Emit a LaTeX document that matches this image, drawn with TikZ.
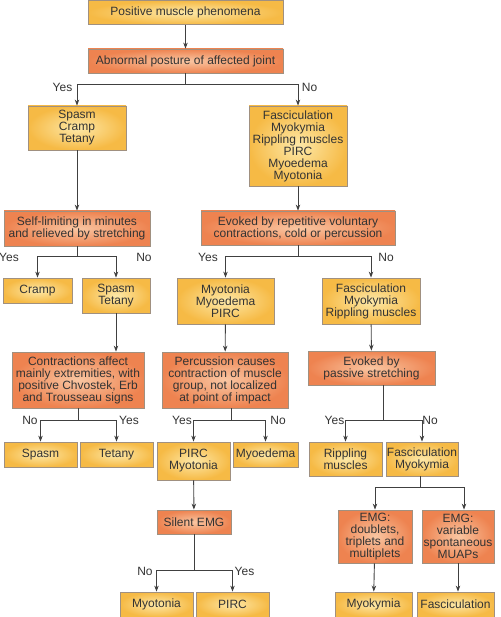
\documentclass[tikz,border=0pt]{standalone}
\usepackage{fontspec}
\setmainfont{Liberation Sans}
\usetikzlibrary{arrows.meta,calc}
\definecolor{yout}{HTML}{F6BA45}
\definecolor{yin}{HTML}{FDE8A8}
\definecolor{oout}{HTML}{EE8350}
\definecolor{oin}{HTML}{F9C6A2}
\definecolor{bord}{HTML}{A09080}
\definecolor{ln}{HTML}{404040}
\definecolor{txt}{HTML}{333333}
\begin{document}
\begin{tikzpicture}[x=1pt,y=-1pt,
  every node/.style={font=\fontsize{12}{12}\selectfont, text=txt},
  boxbase/.style={draw=bord, line width=0.8pt, inner sep=0pt, align=center},
  ybox/.style={boxbase, inner color=yin, outer color=yout},
  obox/.style={boxbase, inner color=oin, outer color=oout},
  arr/.style={draw=ln, line width=0.9pt, -{Stealth[length=6pt,width=4.5pt]}},
  ln/.style={draw=ln, line width=0.9pt},
  lab/.style={inner sep=0pt}]
\useasboundingbox (0,0) rectangle (500,617);
% boxes
\node[ybox, minimum width=195, minimum height=24] (b1) at (185.5,12.5) {Positive muscle phenomena};
\node[obox, minimum width=195, minimum height=24] (b2) at (185.5,61) {Abnormal posture of affected joint};
\node[ybox, minimum width=98, minimum height=44] (b3) at (77,128) {Spasm\\Cramp\\Tetany};
\node[ybox, minimum width=98, minimum height=80] (b4) at (298,146) {Fasciculation\\Myokymia\\Rippling muscles\\PIRC\\Myoedema\\Myotonia};
\node[obox, minimum width=146, minimum height=35] (b5) at (77,228.5) {Self-limiting in minutes\\and relieved by stretching};
\node[obox, minimum width=194, minimum height=34] (b6) at (298,228) {Evoked by repetitive voluntary\\contractions, cold or percussion};
\node[ybox, minimum width=69, minimum height=25] (b7) at (37.5,290.5) {Cramp};
\node[ybox, minimum width=68, minimum height=35] (b8) at (116,295.5) {Spasm\\Tetany};
\node[ybox, minimum width=97, minimum height=46] (b9) at (225.5,301) {Myotonia\\Myoedema\\PIRC};
\node[ybox, minimum width=98, minimum height=46] (b10) at (371,301) {Fasciculation\\Myokymia\\Rippling muscles};
\node[obox, minimum width=132, minimum height=56] (b11) at (78,380) {Contractions affect\\mainly extremities, with\\positive Chvostek, Erb\\and Trousseau signs};
\node[obox, minimum width=126, minimum height=56] (b12) at (225,380) {Percussion causes\\contraction of muscle\\group, not localized\\at point of impact};
\node[obox, minimum width=127, minimum height=34] (b13) at (371.5,368) {Evoked by\\passive stretching};
\node[ybox, minimum width=73, minimum height=25] (b14) at (40.5,454.5) {Spasm};
\node[ybox, minimum width=73, minimum height=25] (b15) at (116.5,454.5) {Tetany};
\node[ybox, minimum width=73, minimum height=38] (b16) at (193.5,461) {PIRC\\Myotonia};
\node[ybox, minimum width=65, minimum height=25] (b17) at (265.5,454.5) {Myoedema};
\node[ybox, minimum width=73, minimum height=34] (b18) at (345.5,459) {Rippling\\muscles};
\node[ybox, minimum width=72, minimum height=34] (b19) at (422,459) {Fasciculation\\Myokymia};
\node[obox, minimum width=74, minimum height=24] (b20) at (194,522) {Silent EMG};
\node[obox, minimum width=74, minimum height=53] (b21) at (375,536.5) {EMG:\\doublets,\\triplets and\\multiplets};
\node[obox, minimum width=72, minimum height=53] (b22) at (458,536.5) {EMG:\\variable\\spontaneous\\MUAPs};
\node[ybox, minimum width=73, minimum height=25] (b23) at (156.5,604.5) {Myotonia};
\node[ybox, minimum width=73, minimum height=25] (b24) at (232.5,604.5) {PIRC};
\node[ybox, minimum width=77, minimum height=25] (b25) at (373.5,604.5) {Myokymia};
\node[ybox, minimum width=77, minimum height=25] (b26) at (455.5,604.5) {Fasciculation};
% junctions
\coordinate (j2) at (185.5,84);
\coordinate (j5) at (77,256);
\coordinate (j6) at (298,256);
\coordinate (j11) at (78,420);
\coordinate (j12) at (231,420);
\coordinate (j13) at (383,420);
\coordinate (j20) at (194,570);
\coordinate (j19) at (420,487);
% connectors
\draw[arr] (b1) -- (b2);
\draw[ln] (b2) -- (j2);
\draw[arr] (j2) -| (b3);
\draw[arr] (j2) -| (b4);
\draw[arr] (b3) -- (b5);
\draw[arr] (b4) -- (b6);
\draw[ln] (b5) -- (j5);
\draw[arr] (j5) -| (b7);
\draw[arr] (j5) -| (b8);
\draw[ln] (b6) -- (j6);
\draw[arr] (j6) -| (b9);
\draw[arr] (j6) -| (b10);
\draw[arr] (b8.south) -- (b8.south |- b11.north);
\draw[arr] (b9) -- (b12);
\draw[arr] (b10) -- (b13);
\draw[ln] (b11) -- (j11);
\draw[arr] (j11) -| (b14);
\draw[arr] (j11) -| (b15);
\draw[ln] (b12.south -| j12) -- (j12);
\draw[arr] (j12) -| (b16);
\draw[arr] (j12) -| (b17);
\draw[ln] (b13.south -| j13) -- (j13);
\draw[arr] (j13) -| (b18);
\draw[arr] (j13) -| (b19);
\draw[arr] (b16) -- (b20);
\draw[ln] (b20) -- (j20);
\draw[arr] (j20) -| (b23);
\draw[arr] (j20) -| (b24);
\draw[ln] (b19.south -| j19) -- (j19);
\draw[arr] (j19) -| (b21);
\draw[arr] (j19) -| ([xshift=6pt]b22.north);
\draw[arr] (b21) -- (b25);
\draw[arr] (b22.south) -- (b22.south |- b26.north);
% labels
\node[lab] (l1) at (62.5,87) {Yes};
\node[lab] (l2) at (309.5,87) {No};
\node[lab] (l3) at (9,257) {Yes};
\node[lab] (l4) at (144,257) {No};
\node[lab] (l5) at (208,257) {Yes};
\node[lab] (l6) at (386,257) {No};
\node[lab] (l7) at (30,420) {No};
\node[lab] (l8) at (129,420) {Yes};
\node[lab] (l9) at (182,420) {Yes};
\node[lab] (l10) at (278,420) {No};
\node[lab] (l11) at (334.5,420) {Yes};
\node[lab] (l12) at (430,420) {No};
\node[lab] (l13) at (145,571) {No};
\node[lab] (l14) at (244.5,571) {Yes};
\end{tikzpicture}
\end{document}
